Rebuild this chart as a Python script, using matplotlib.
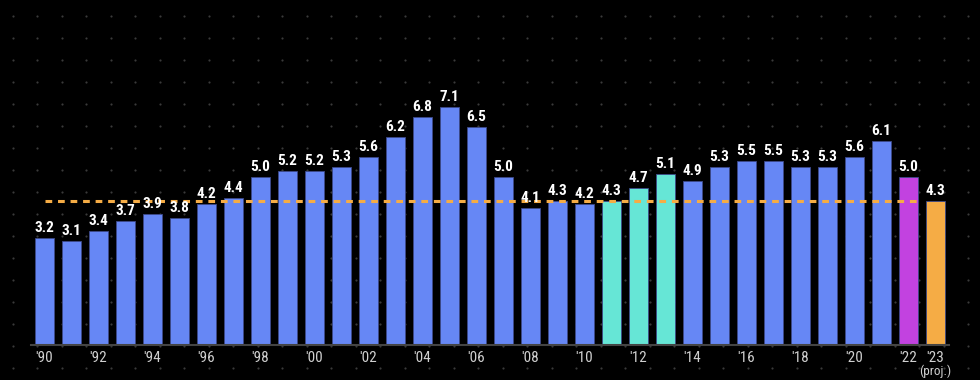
import matplotlib
matplotlib.use("Agg")
import matplotlib.pyplot as plt
import numpy as np

# data
years = list(range(1990, 2024))
values = [3.2, 3.1, 3.4, 3.7, 3.9, 3.8, 4.2, 4.4, 5.0, 5.2, 5.2, 5.3, 5.6, 6.2, 6.8,
          7.1, 6.5, 5.0, 4.1, 4.3, 4.2, 4.3, 4.7, 5.1, 4.9, 5.3, 5.5, 5.5, 5.3, 5.3,
          5.6, 6.1, 5.0, 4.3]
highlight_teal = [2011, 2012, 2013]
highlight_magenta = [2022]
highlight_orange = [2023]
reference_level = 4.3
tick_years = list(range(1990, 2023, 2)) + [2023]

BLUE = '#6687f5'
TEAL = '#66e6d6'
MAGENTA = '#c242e0'
ORANGE = '#f5ac45'

plt.rcParams['font.family'] = ['Roboto Condensed', 'Liberation Sans Narrow', 'Roboto', 'DejaVu Sans']

W, H = 980, 380
fig = plt.figure(figsize=(W / 100, H / 100), dpi=100, facecolor='black')
ax = fig.add_axes([0, 0, 1, 1])
ax.set_facecolor('black')

# pixel layout: first bar centre at 44.5px, 27px per bar, baseline at 345px, 33.5px per unit
x0, step, base, unit = 44.5, 27.0, 345.0, 33.5
ax.set_xlim(-x0 / step, (W - x0) / step)
ax.set_ylim(-(H - base) / unit, base / unit)
ax.axis('off')

# dotted background grid
gx = np.arange(12.7, W, 24.5)
gy = np.arange(15.7, H, 22.0)
GX, GY = np.meshgrid(gx, gy)
ax.scatter(GX.ravel() / W, 1 - GY.ravel() / H, s=2.5, color='#3a3a3a',
           transform=fig.transFigure, zorder=0, linewidths=0)

colors = []
for y in years:
    if y in highlight_teal:
        colors.append(TEAL)
    elif y in highlight_magenta:
        colors.append(MAGENTA)
    elif y in highlight_orange:
        colors.append(ORANGE)
    else:
        colors.append(BLUE)

idx = np.arange(len(years))
ax.bar(idx, values, width=0.67, color=colors, edgecolor='#3d4a8a', linewidth=0.6, zorder=2)

# baseline
ax.plot([-0.5, len(years) - 0.5], [0, 0], color='#444444', lw=1.5, zorder=3)

# dashed reference line
ax.plot([0, len(years) - 1.6], [reference_level, reference_level], color=ORANGE,
        lw=2.2, dashes=(2.2, 1.9), zorder=4)

# value labels
for i, v in zip(idx, values):
    ax.text(i, v + 0.09, f'{v:.1f}', ha='center', va='bottom', color='white',
            fontsize=11, fontweight='bold', zorder=5)

# year labels
for y in tick_years:
    i = years.index(y)
    ax.text(i, -0.39, f"'{str(y)[2:]}", ha='center', va='center', color='#d0d0d0',
            fontsize=11, zorder=5)
ax.text(years.index(2023), -0.99, '(proj.)', ha='center', va='bottom',
        color='#d0d0d0', fontsize=9.5, zorder=5)

fig.savefig('out.png', dpi=100, facecolor='black')
